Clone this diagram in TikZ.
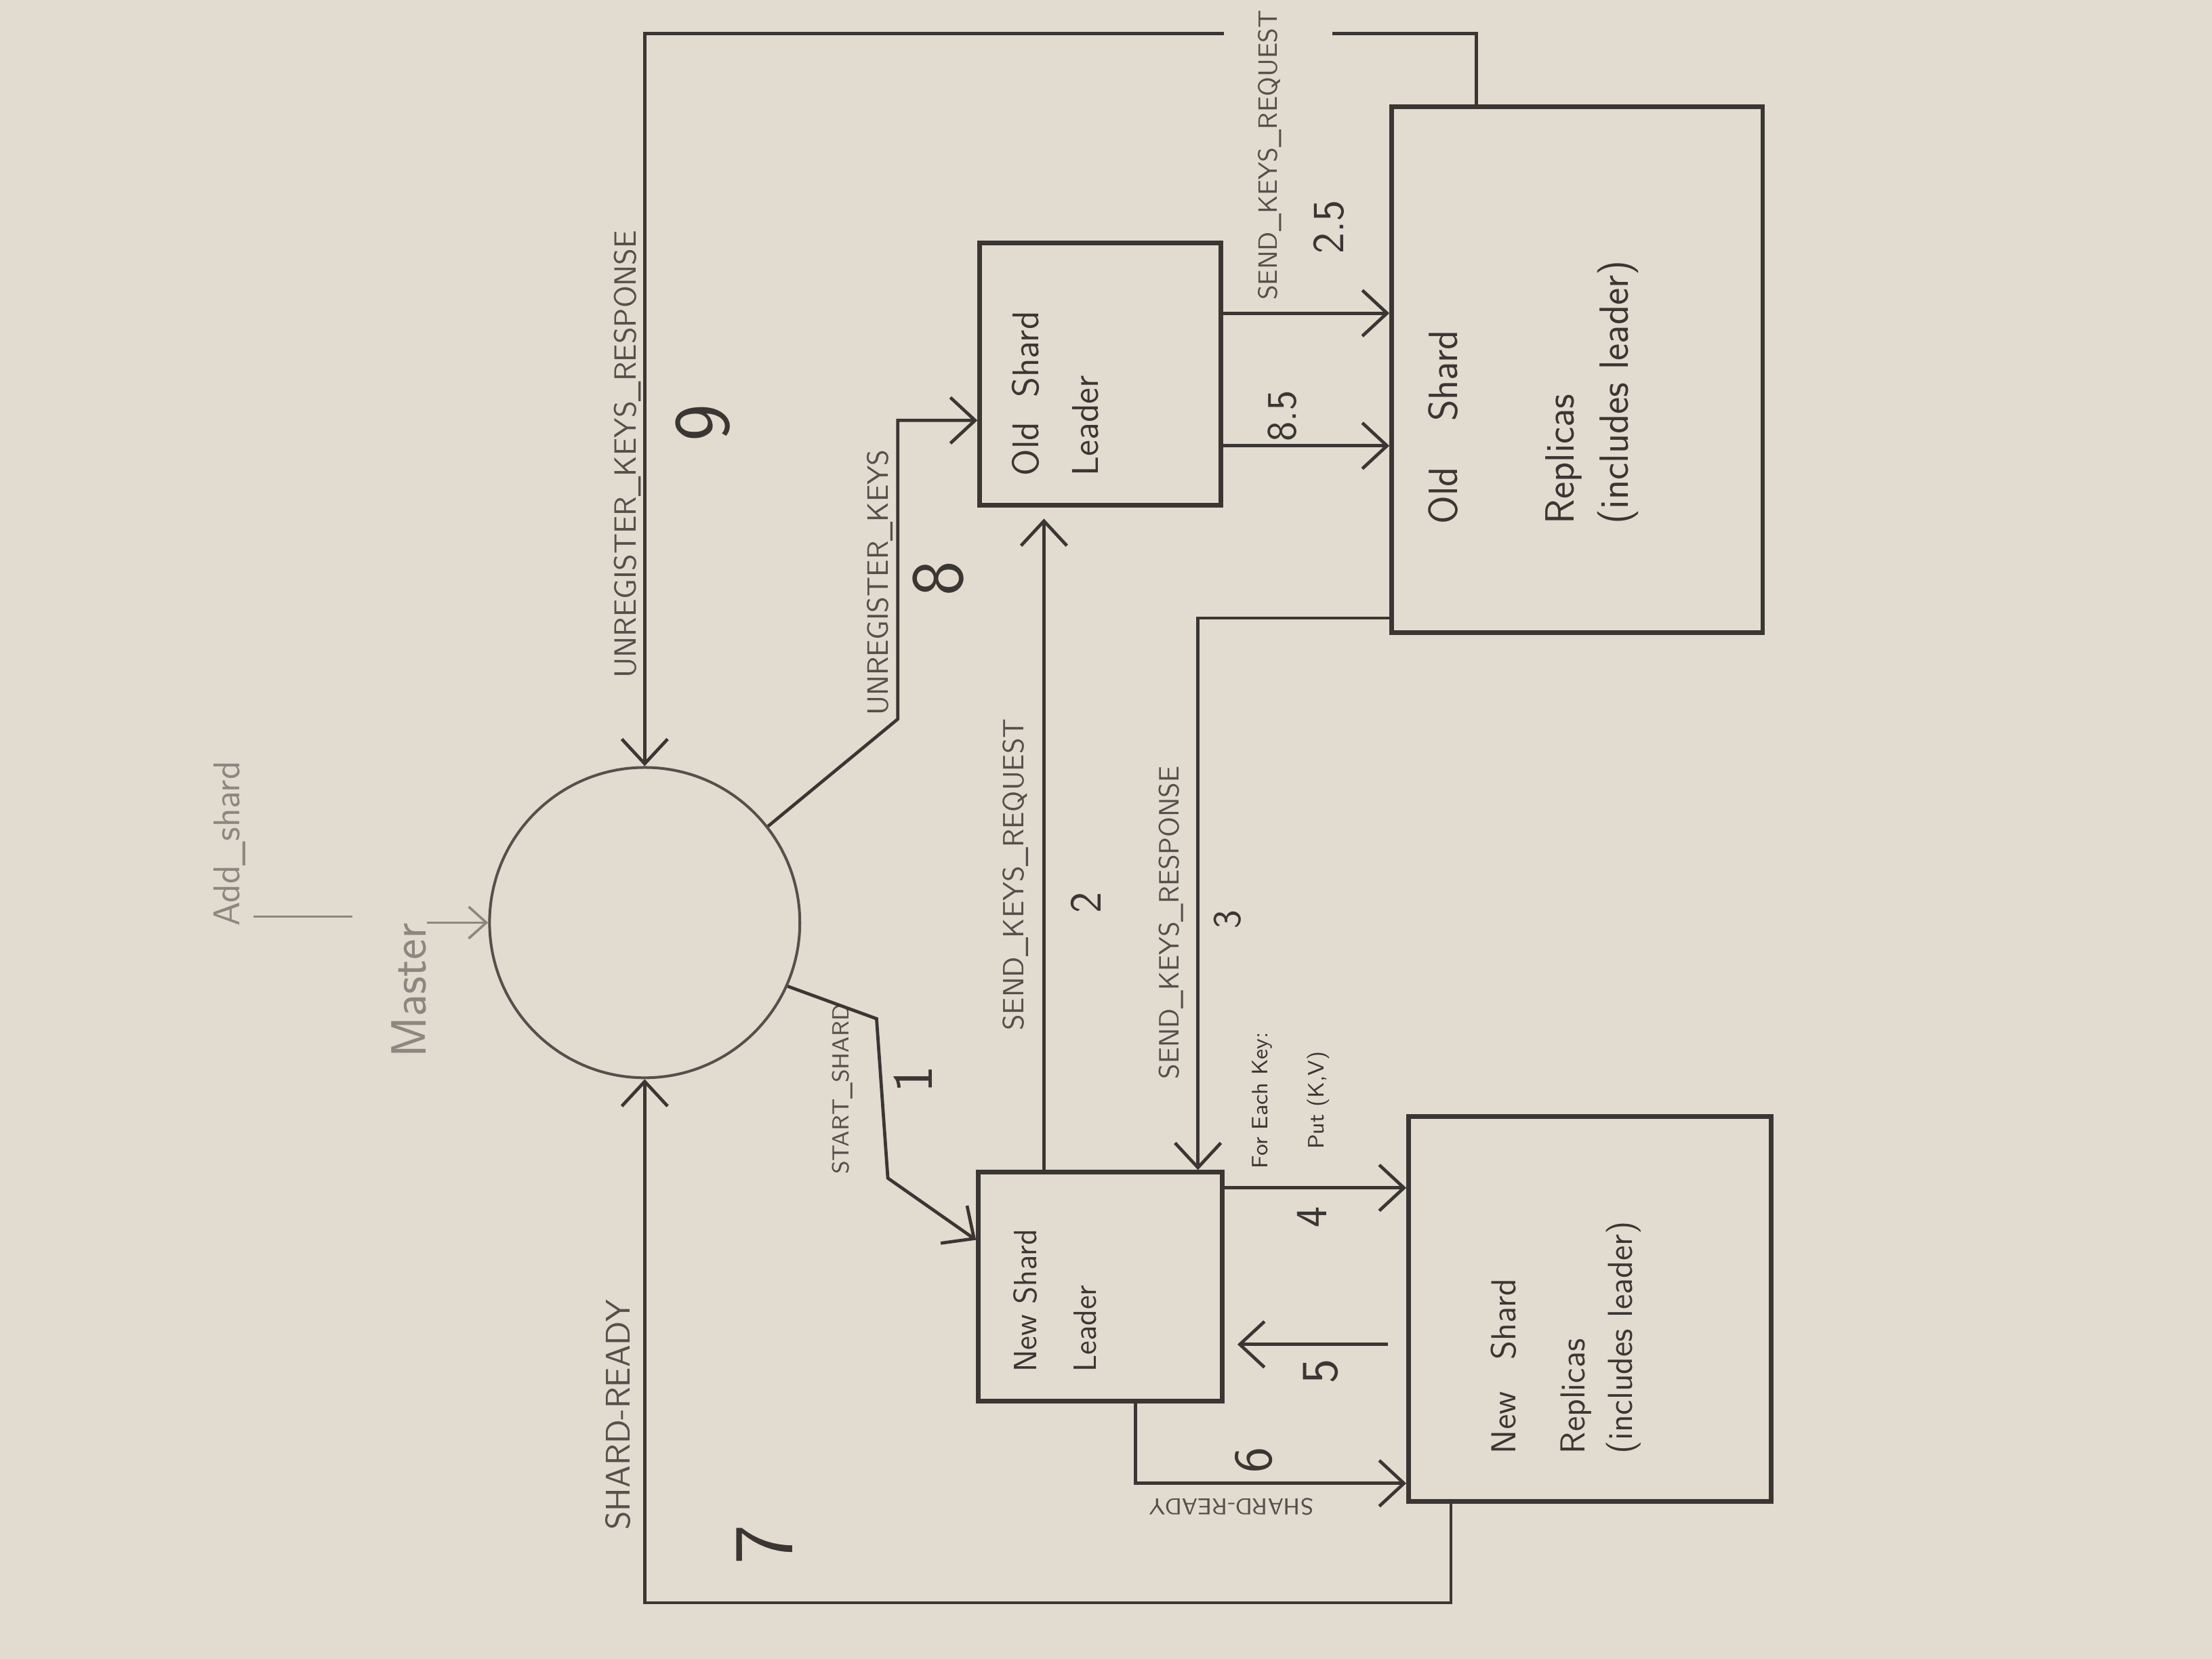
\documentclass[tikz,border=0pt]{standalone}
\usepackage{tikz}
\usetikzlibrary{arrows.meta,positioning,calc}
\definecolor{paper}{HTML}{E2DCD0}
\definecolor{pencil}{HTML}{3A3633}
\definecolor{graphite}{HTML}{55504B}
\definecolor{faintgraphite}{HTML}{8C8780}

\begin{document}
\begin{tikzpicture}[x=0.02cm,y=-0.02cm,
  box/.style={draw=pencil,line width=1.9pt,inner sep=0pt},
  msg/.style={draw=pencil,line width=1.3pt,-{Straight Barb[length=3.5mm,width=6.5mm]}},
  faintline/.style={draw=faintgraphite,line width=1pt},
  lbl/.style={rotate=90,inner sep=0pt,text=graphite,font=\sffamily\fontsize{#1}{#1}\selectfont},
  num/.style={rotate=90,inner sep=0pt,text=pencil,font=\sffamily\fontsize{#1}{#1}\selectfont},
  boxtext/.style n args={2}{rotate=90,inner sep=0pt,align=left,text=pencil,font=\sffamily\fontsize{#1}{#2}\selectfont}]
  \useasboundingbox (0,0) rectangle (1568,1176);
  \fill[paper] (0,0) rectangle (1568,1176);

  \node[circle,draw=graphite,line width=1.1pt,minimum size=4.4cm] (master) at (457,654) {};
  \node[box,minimum width=3.42cm,minimum height=3.72cm] (oldlead) at (780,265) {};
  \node[box,minimum width=5.26cm,minimum height=7.46cm] (oldrep) at (1118,262) {};
  \node[box,minimum width=3.46cm,minimum height=3.24cm] (newlead) at (780,912) {};
  \node[box,minimum width=5.14cm,minimum height=5.46cm] (newrep) at (1127,928) {};

  \node[boxtext={15}{24}] (oldleadtxt) at (748,279) {Old\ \ Shard\\Leader};
  \node[boxtext={16.5}{22}] (oldreptxt) at (1087,278) {Old\hspace{0.8em} Shard\\[0.88cm]Replicas\\(includes leader)};
  \node[boxtext={13}{24}] (newleadtxt) at (748,922) {New\ Shard\\Leader};
  \node[boxtext={14}{19}] (newreptxt) at (1110,948) {New\hspace{0.6em} Shard\\[0.31cm]Replicas\\(includes leader)};

  \node[lbl=15,text=faintgraphite] (addshard) at (163,598) {Add\_shard};
  \node[lbl=20,text=faintgraphite] (mastertxt) at (290,702) {Master};
  \node[lbl=12.4] (unregresp) at (445,322) {UNREGISTER\_KEYS\_RESPONSE};
  \node[num=32] (stepnine) at (498,300) {9};
  \node[lbl=11.9] (unreg) at (624,413) {UNREGISTER\_KEYS};
  \node[num=30] (stepeight) at (665,410) {8};
  \node[lbl=11.8] (sendreq) at (720,620) {SEND\_KEYS\_REQUEST};
  \node[num=18] (steptwo) at (770,640) {2};
  \node[lbl=11.3] (sendresp) at (830,654) {SEND\_KEYS\_RESPONSE};
  \node[num=16] (stepthree) at (870,652) {3};
  \node[lbl=9.4] (startshard) at (597,772) {START\_SHARD};
  \node[num=23] (stepone) at (647,765) {1};
  \node[lbl=10.7] (sendreqold) at (900,110) {SEND\_KEYS\_REQUEST};
  \node[num=18] (steptwohalf) at (942,161) {2.5};
  \node[num=17] (stepeighthalf) at (909,295) {8.5};
  \node[rotate=90,inner sep=0pt,align=center,text=pencil,font=\sffamily\fontsize{9}{22.7}\selectfont] (putkeys) at (915,780) {For Each Key:\\Put (K,V)};
  \node[num=18] (stepfour) at (930,863) {4};
  \node[num=21] (stepfive) at (936,972) {5};
  \node[rotate=180,inner sep=0pt,text=graphite,font=\sffamily\fontsize{9.3}{9.3}\selectfont] (readynew) at (873,1068) {SHARD-READY};
  \node[num=22] (stepsix) at (889,1035) {6};
  \node[lbl=13.8] (readymaster) at (438,1003) {SHARD-READY};
  \node[num=34] (stepseven) at (542,1095) {7};

  \draw[msg] ([xshift=-1.43cm]oldrep.north) -- ++(0,-50) -- ++(-102,0) ++(-77,0) -| (master.north);
  \draw[msg] (master.38) -- ++(92,-76) |- ([yshift=-0.66cm]oldlead.west);
  \draw[msg] (master.-24) -- ++(63,23) -- ++(8,113) -- ($(newlead.north west)!0.3!(newlead.south west)$);
  \draw[msg,shorten >=0.16cm] ([xshift=-0.8cm]newlead.north) -- ([xshift=-0.8cm]oldlead.south);
  \draw[msg] ([yshift=0.24cm]oldrep.south west) -| ([xshift=-0.38cm]newlead.north east);
  \coordinate (kreq) at ($(oldlead.east)+(0,-43)$);
  \coordinate (kunreg) at ($(oldlead.east)+(0,51)$);
  \coordinate (kput) at ($(newlead.east)+(0,-70)$);
  \coordinate (kack) at ($(newlead.east)+(0,41)$);
  \draw[msg] (kreq) -- (kreq -| oldrep.west);
  \draw[msg] (kunreg) -- (kunreg -| oldrep.west);
  \draw[msg] (kput) -- (kput -| newrep.west);
  \draw[msg,shorten <=0.26cm,shorten >=0.18cm] (kack -| newrep.west) -- (kack);
  \draw[msg] ([xshift=0.5cm]newlead.south) |- ([yshift=-2.47cm]newrep.west);
  \draw[msg] ([xshift=-1.97cm]newrep.south) -- ++(0,70) -| (master.south);
  \draw[faintline] ([shift={(0.1cm,0.14cm)}]addshard.south west) -- ++(70,0);
  \draw[faintline,-{Straight Barb[length=2.5mm,width=4.5mm]}] (mastertxt.south |- master.west) -- (master.west);
\end{tikzpicture}
\end{document}
